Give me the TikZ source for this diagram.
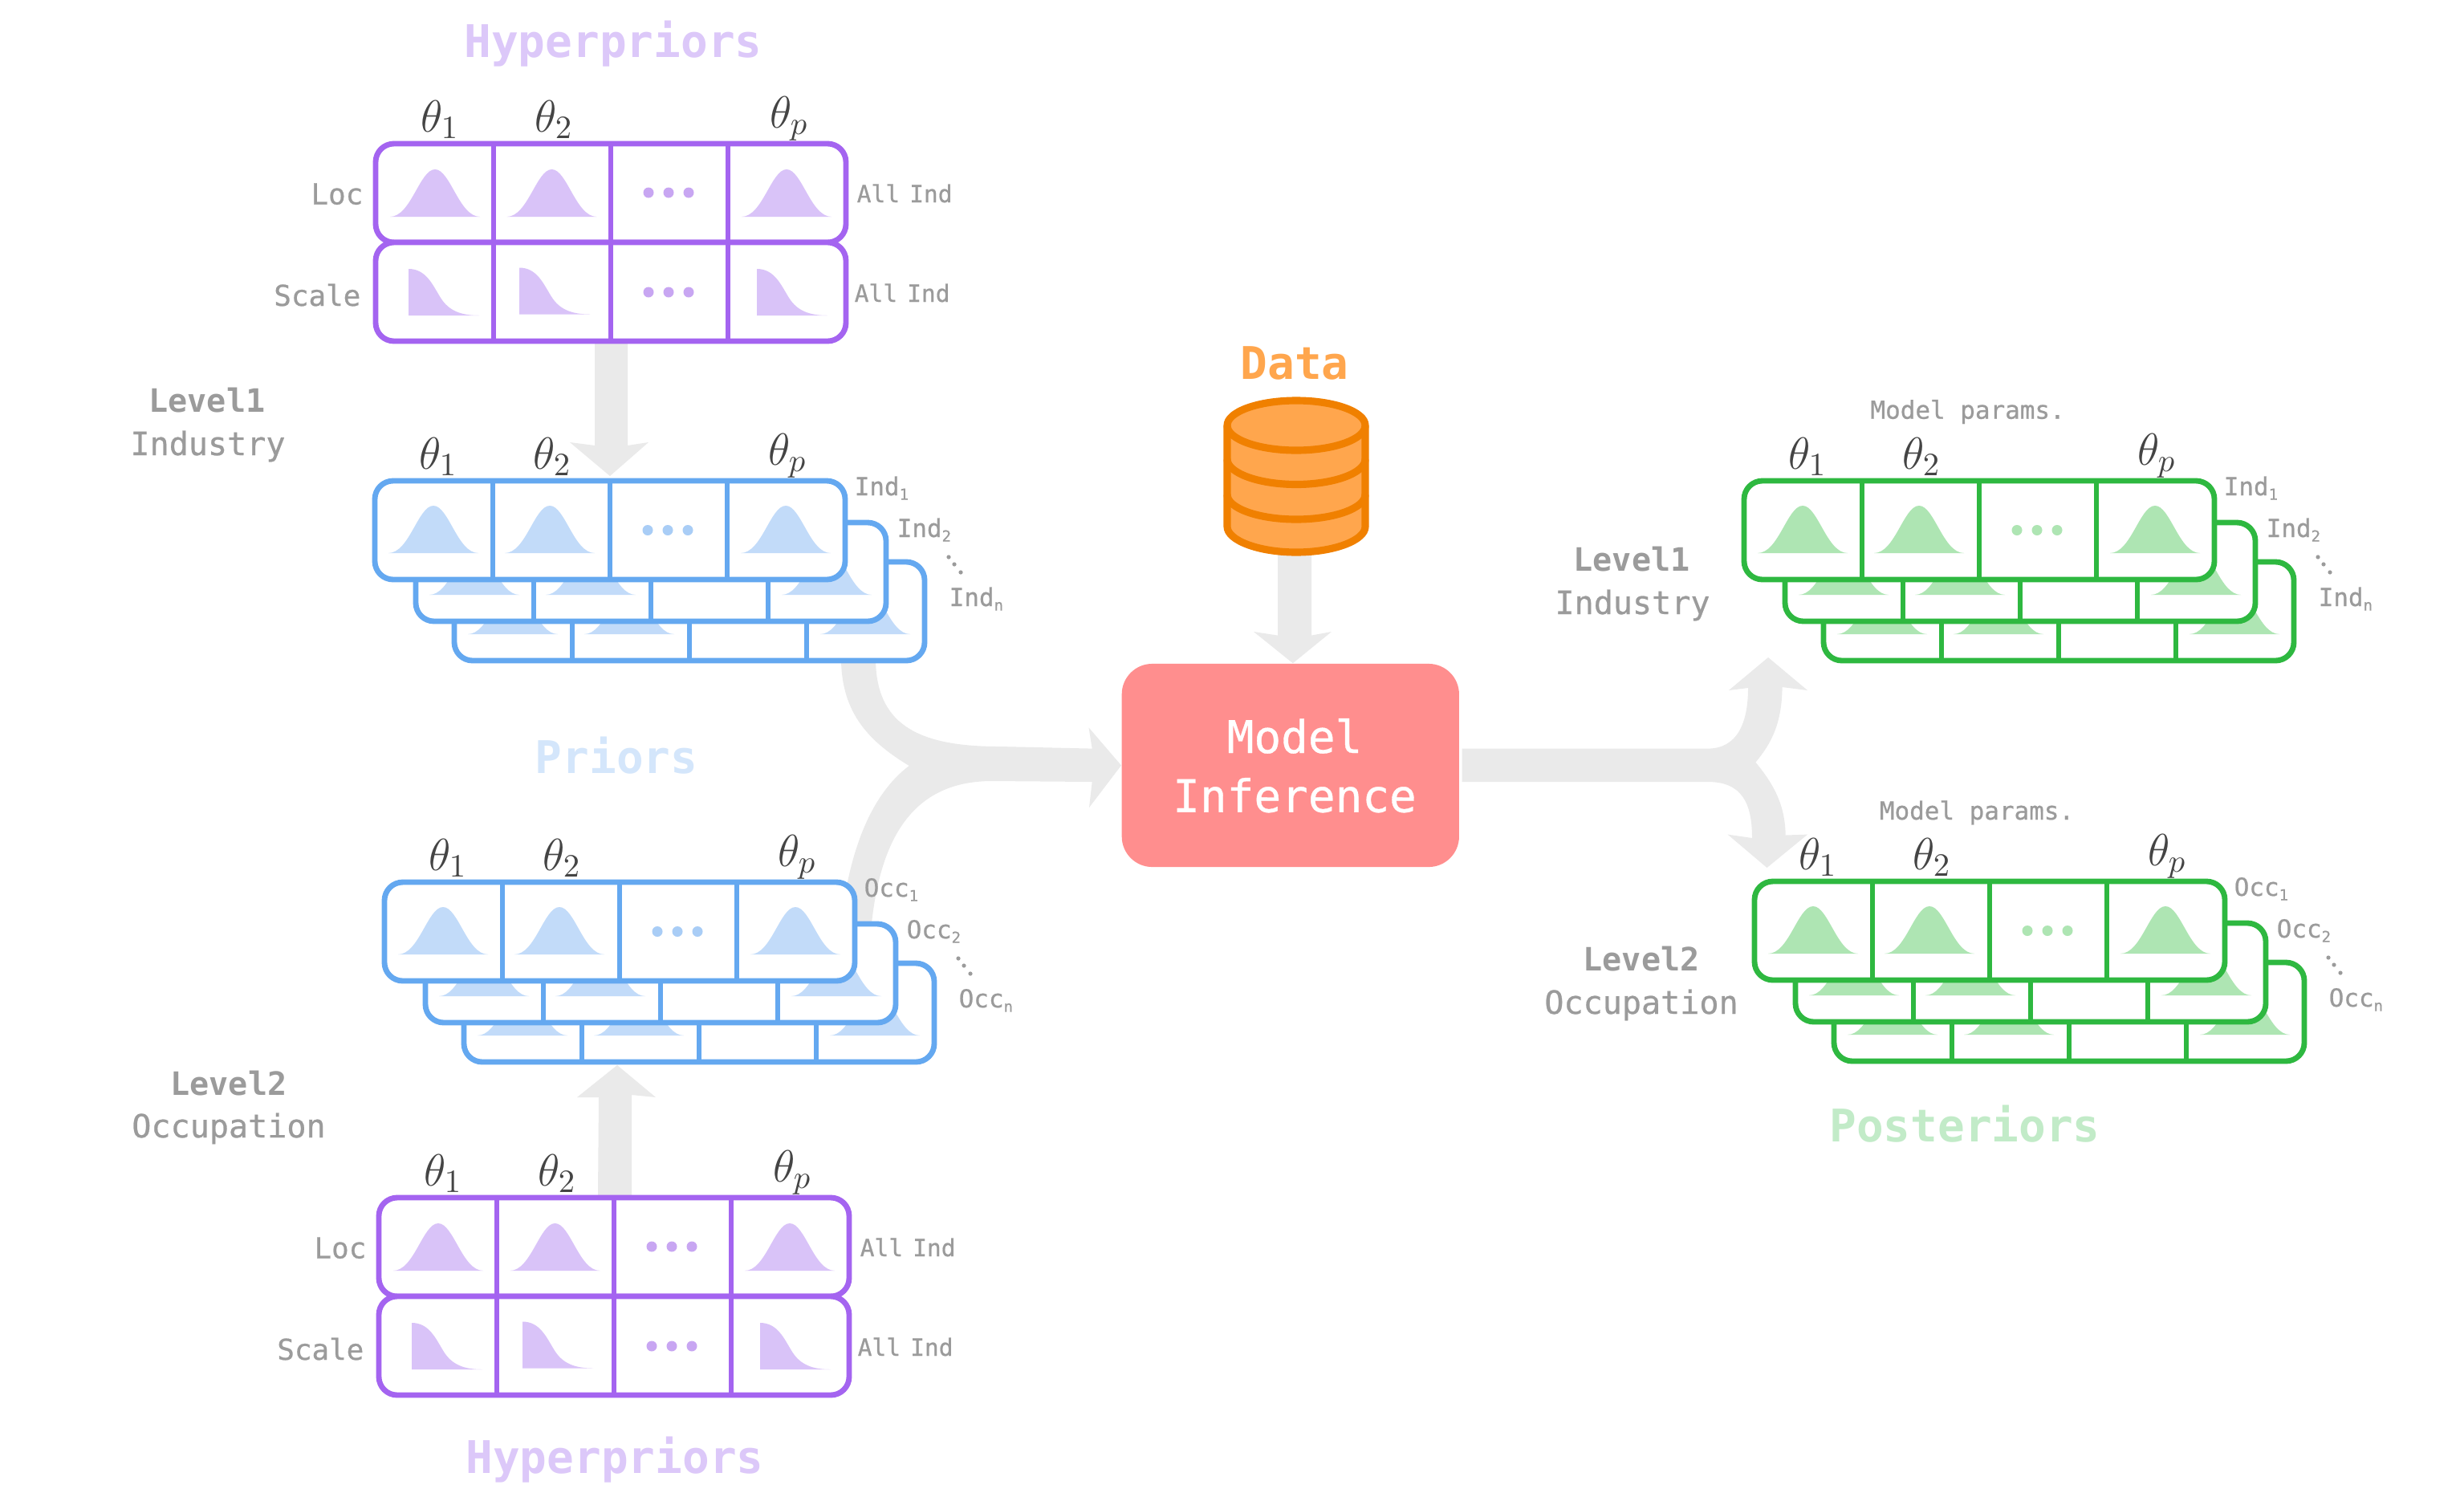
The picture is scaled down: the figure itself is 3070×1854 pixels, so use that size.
\RequirePackage{fix-cm}
\documentclass[tikz,border=0pt]{standalone}
\usepackage{fontspec}
\setmonofont{DejaVu Sans Mono}
\setmainfont{DejaVu Sans Mono}
\newfontfamily\medmono[FakeBold=0.6]{DejaVu Sans Mono}
\definecolor{pstrokeA}{HTML}{A464F0}
\definecolor{pfillA}{HTML}{D9C3F8}
\definecolor{pdotA}{HTML}{C8A6F2}
\definecolor{bstrokeA}{HTML}{64A8F0}
\definecolor{bfillA}{HTML}{C2DBF9}
\definecolor{bdotA}{HTML}{A9CDF6}
\definecolor{gstrokeA}{HTML}{2EB840}
\definecolor{gfillA}{HTML}{AEE5B3}
\definecolor{gdotA}{HTML}{AEE5B3}
\definecolor{arrowgray}{HTML}{EAEAEA}
\definecolor{txtgray}{HTML}{9B9B9B}
\definecolor{thetagray}{HTML}{444444}
\definecolor{modelred}{HTML}{FF8E8E}
\definecolor{dbfill}{HTML}{FFA64D}
\definecolor{dbline}{HTML}{F08000}
\definecolor{hyperT}{HTML}{DCC8F9}
\definecolor{priorT}{HTML}{D4E6FB}
\definecolor{postT}{HTML}{C2EBC8}
\DeclareMathSizes{16}{16}{11.5}{9}
\tikzset{
  frameline/.style={line width=1.95pt, rounded corners=6.5pt, fill=white},
  divline/.style={line width=1.6pt},
  arrowshape/.style={fill=arrowgray},
  titletext/.style={anchor=base, inner sep=0pt, font=\ttfamily\bfseries\fontsize{15.93}{18}\selectfont},
  leveltext/.style={anchor=base, inner sep=0pt, text=txtgray, font=\ttfamily\bfseries\fontsize{11.4}{13}\selectfont},
  subleveltext/.style={anchor=base, inner sep=0pt, text=txtgray, font=\medmono\fontsize{11.4}{13}\selectfont},
  rowtext/.style={anchor=base east, inner sep=0pt, text=txtgray, font=\medmono\fontsize{10.2}{12}\selectfont},
  alltext/.style={anchor=base west, inner sep=0pt, text=txtgray, font=\medmono\fontsize{8.4}{10}\selectfont},
  layertext/.style={anchor=base west, inner sep=0pt, text=txtgray, font=\medmono\fontsize{8.8}{10}\selectfont},
  paramtext/.style={anchor=base, inner sep=0pt, text=txtgray, font=\medmono\fontsize{8.8}{10}\selectfont},
  thetatext/.style={anchor=base, inner sep=0pt, text=thetagray, font=\fontsize{16}{19}\selectfont},
  modeltext/.style={anchor=base, inner sep=0pt, text=white, font=\medmono\fontsize{15.93}{18}\selectfont},
}
\newcommand{\subs}[1]{\raisebox{-1.6pt}{\fontsize{5.4}{6}\selectfont #1}}
\newcommand{\bell}[3]{\fill[#3] (#1-56,#2) .. controls (#1-30,#2) and (#1-19,#2-59) .. (#1,#2-59) .. controls (#1+19,#2-59) and (#1+30,#2) .. (#1+56,#2) -- cycle;}
\newcommand{\halfbell}[3]{\fill[#3] (#1,#2-58) .. controls (#1+22,#2-58) and (#1+30,#2-38) .. (#1+40,#2-22) .. controls (#1+50,#2-6) and (#1+65,#2) .. (#1+88,#2) -- (#1,#2) -- cycle;}
\newcommand{\threedots}[2]{\foreach \dd in {338,363,388}{\fill[#2] (\dd,#1) circle[radius=6.5];}}
\newcommand{\frameonly}[1]{%
  \draw[frameline, draw=#1] (-2,0) rectangle (584,123);
  \foreach \dv in {145,291,437}{\draw[divline, draw=#1] (\dv,0) -- (\dv,123);}%
}
\newcommand{\belllayer}[5]{% x y stroke fill dots
  \begin{scope}[shift={(#1,#2)}]
    \frameonly{#3}
    \bell{71}{90}{#4}\bell{216}{90}{#4}\bell{510}{90}{#4}
    \threedots{61.5}{#5}
  \end{scope}}
\newcommand{\stackpanel}[7]{%
  \begin{scope}[shift={(#2,#3)}]
    \belllayer{99}{101}{#4}{#5}{#6}
    \belllayer{51}{52}{#4}{#5}{#6}
    \belllayer{0}{0}{#4}{#5}{#6}
    \node[thetatext] (#1t1) at (77,-15) {$\theta_1$};
    \node[thetatext] (#1t2) at (219,-15) {$\theta_2$};
    \node[thetatext] (#1tp) at (512,-20) {$\theta_p$};
    \node[layertext] (#1l1) at (595,18) {#7\subs{1}};
    \node[layertext] (#1l2) at (648,70) {#7\subs{2}};
    \node[layertext] (#1ln) at (713,156) {#7\subs{n}};
    \fill[txtgray] (713,95) circle[radius=2.6] (720,104) circle[radius=2.6] (728,114) circle[radius=2.6];
  \end{scope}}
\newcommand{\hyperpanel}[3]{%
  \begin{scope}[shift={(#2,#3)}]
    \frameonly{pstrokeA}
    \bell{72}{91}{pfillA}\bell{217.5}{91}{pfillA}\bell{510}{91}{pfillA}
    \threedots{61}{pdotA}
    \begin{scope}[shift={(0,123)}]
      \frameonly{pstrokeA}
      \halfbell{39}{91}{pfillA}\halfbell{177}{89.5}{pfillA}\halfbell{473}{91}{pfillA}
      \threedots{62}{pdotA}
    \end{scope}
    \node[thetatext] (#1t1) at (78,-15) {$\theta_1$};
    \node[thetatext] (#1t2) at (220,-15) {$\theta_2$};
    \node[thetatext] (#1tp) at (513,-20) {$\theta_p$};
    \node[rowtext] (#1loc) at (-17,75.5) {Loc};
    \node[rowtext] (#1sca) at (-20,202) {Scale};
    \node[alltext] (#1all) at (597,73) {All\hspace{-1.6pt} Ind};
    \node[alltext] (#1alb) at (594,197) {All\hspace{-1.6pt} Ind};
  \end{scope}}
\begin{document}
\begin{tikzpicture}[x=0.01cm,y=-0.01cm]
\useasboundingbox (0,0) rectangle (3070,1854);
\fill[white] (0,0) rectangle (3070,1854);

\node[rectangle, fill=modelred, rounded corners=10.8pt, minimum width=4.2cm, minimum height=2.53cm, inner sep=0pt] (model) at (1607.8,953.5) {};

% grey arrows
\fill[arrowshape] (741,425) -- (782,425) -- (782,555) -- (808,551) -- (760,593) -- (710,551) -- (741,555) -- cycle;
\fill[arrowshape] (745,1489) -- (746,1367) -- (719,1367) -- (769,1327) -- (817,1367) -- (787,1364) -- (787,1489) -- cycle;
\fill[arrowshape] (1592,691) -- (1634,691) -- (1634,791.6) -- (1659,787) -- ([xshift=0.03cm]model.north) -- (1562,787) -- (1592,791.6) -- cycle;
% merging arrow into the model
\fill[arrowshape] (1048,820) .. controls (1048,890) and (1085,925) .. (1132.7,954)
  .. controls (1085,990) and (1058,1060) .. (1048,1150) -- (1086,1150)
  .. controls (1098,1040) and (1140,973) .. (1236,973) -- (1360.7,974) -- (1357,1006)
  -- (model.west) -- (1356.5,906.4) -- (1360.7,932.6) -- (1244.6,930)
  .. controls (1140,930) and (1091,900) .. (1091,820) -- cycle;
% splitting arrow out of the model
\fill[arrowshape] ([xshift=0.03cm]model.east |- 0,932.6) -- (2127.7,932.6) .. controls (2165,932.6) and (2178,900) .. (2178,857)
  -- (2154,860) -- (2203,819) -- (2252,860) -- (2220.6,856)
  .. controls (2220,900) and (2208,925) .. (2187.4,949.6)
  .. controls (2208,975) and (2224,1000) .. (2224.7,1040.5)
  -- (2252,1039.6) -- (2201.5,1081) -- (2152.6,1039.6) -- (2183,1044)
  .. controls (2183,1000) and (2170,974) .. (2127.7,974) -- ([xshift=0.03cm]model.east |- 0,974) -- cycle;

% panels
\hyperpanel{ha}{470}{179}
\stackpanel{pa}{469}{599}{bstrokeA}{bfillA}{bdotA}{Ind}
\stackpanel{pb}{481}{1099}{bstrokeA}{bfillA}{bdotA}{Occ}
\hyperpanel{hb}{474}{1492}
\stackpanel{qa}{2175}{599}{gstrokeA}{gfillA}{gdotA}{Ind}
\stackpanel{qb}{2188}{1098}{gstrokeA}{gfillA}{gdotA}{Occ}

% database
\draw[fill=dbfill, draw=dbline, line width=2.6pt] (1529,530) -- (1529,656) .. controls (1529,673) and (1567.5,688) .. (1615,688) .. controls (1662.5,688) and (1701,673) .. (1701,656) -- (1701,530) .. controls (1701,513) and (1662.5,499) .. (1615,499) .. controls (1567.5,499) and (1529,513) .. (1529,530) -- cycle;
\draw[draw=dbline, line width=2.6pt] (1529,530) .. controls (1529,547) and (1567.5,561) .. (1615,561) .. controls (1662.5,561) and (1701,547) .. (1701,530);
\draw[draw=dbline, line width=2.6pt] (1529,572) .. controls (1529,589) and (1567.5,603.5) .. (1615,603.5) .. controls (1662.5,603.5) and (1701,589) .. (1701,572);
\draw[draw=dbline, line width=2.6pt] (1529,616) .. controls (1529,633) and (1567.5,647) .. (1615,647) .. controls (1662.5,647) and (1701,633) .. (1701,616);

% texts
\node[titletext, text=hyperT] (hypertop) at (764,71) {Hyperpriors};
\node[titletext, text=hyperT] (hyperbot) at (766,1835) {Hyperpriors};
\node[titletext, text=priorT] (priors) at (768,963) {Priors};
\node[titletext, text=postT] (posts) at (2448,1422) {Posteriors};
\node[titletext, text=dbfill] (data) at (1613,472) {Data};
\node[modeltext] (modelA) at (1613,938) {Model};
\node[modeltext] (modelB) at (1613,1011.6) {Inference};
\node[leveltext] (la) at (258,513) {Level1};
\node[subleveltext] (lb) at (259,567) {Industry};
\node[leveltext] (lc) at (285,1364) {Level2};
\node[subleveltext] (ld) at (285,1417) {Occupation};
\node[leveltext] (le) at (2033,711) {Level1};
\node[subleveltext] (lf) at (2034,765) {Industry};
\node[leveltext] (lg) at (2045,1209) {Level2};
\node[subleveltext] (lh) at (2045,1263) {Occupation};
\node[paramtext] (ma) at (2451.6,521.7) {Model params.};
\node[paramtext] (mb) at (2463,1021) {Model params.};
\end{tikzpicture}
\end{document}
